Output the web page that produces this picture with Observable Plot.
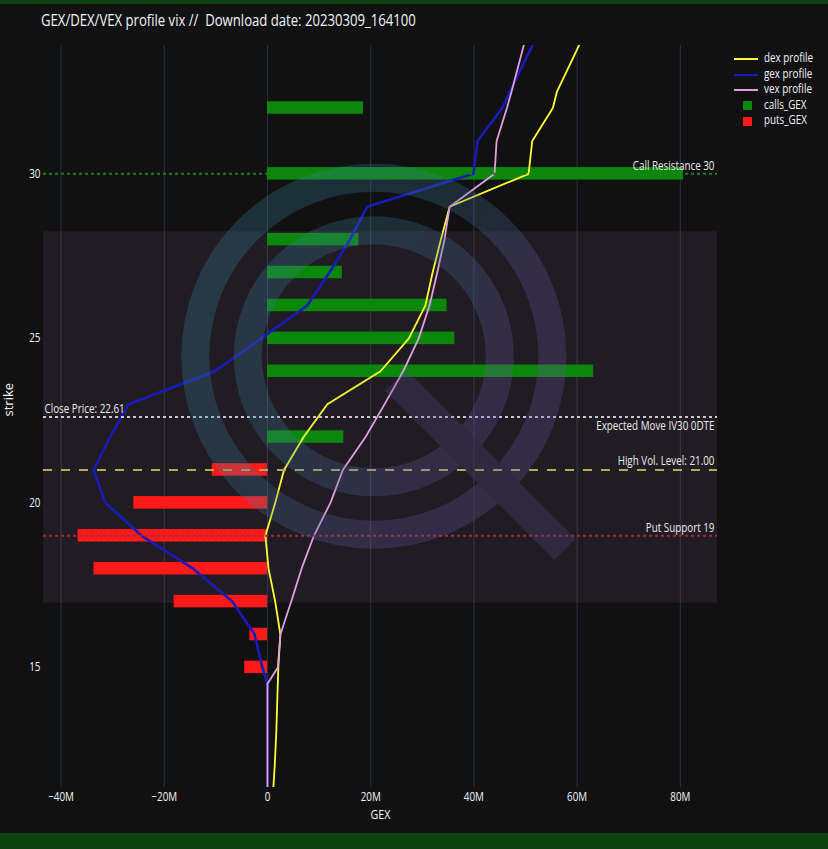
<!DOCTYPE html>
<html>
<head>
<meta charset="utf-8">
<script src="https://cdn.jsdelivr.net/npm/d3@7"></script>
<script src="https://cdn.jsdelivr.net/npm/@observablehq/plot@0.6"></script>
<style>
  html, body { margin: 0; padding: 0; background: #111111; }
  body { width: 828px; height: 849px; position: relative; overflow: hidden; font-family: "Open Sans", sans-serif; color: #f2f5fa; }
  #topbar { position: absolute; left: 0; top: 0; width: 828px; height: 4px; background: #0c420e; }
  #bottombar { position: absolute; left: 0; top: 833px; width: 828px; height: 16px; background: #0c420e; }
  #title { position: absolute; left: 41px; top: 8px; font-size: 16px; line-height: 24px; white-space: pre; transform: scaleX(0.82); transform-origin: left center; }
  #chart { position: absolute; left: 0; top: 40px; }
  #legend { position: absolute; left: 734px; top: 51px; font-size: 12px; }
  .lg { position: relative; height: 15.5px; width: 90px; }
  .lg .sw { position: absolute; }
  .lg .tx { position: absolute; left: 30px; top: -1px; line-height: 16px; white-space: pre; transform: scaleX(0.82); transform-origin: left center; }
</style>
</head>
<body>
<div id="topbar"></div>
<div id="title">GEX/DEX/VEX profile vix //  Download date: 20230309_164100</div>
<div id="chart"></div>
<div id="legend"></div>
<div id="bottombar"></div>
<script>
// ---- data (GEX values in millions) ----
const strikes    = [11, 12, 13, 14, 14.5, 15, 16, 17, 18, 19, 20, 21, 22, 23, 24, 25, 26, 27, 28, 29, 30, 31, 32, 32.5, 35];
const dexProfile = [1.0, 1.4, 1.7, 1.9, 2.0, 2.1, 2.5, 1.5, 0.2, -0.4, 1.5, 3.2, 7.0, 11.6, 21.9, 27.4, 30.6, 32.0, 33.6, 35.3, 50.6, 51.3, 55.3, 56.1, 63.7];
const gexProfile = [0, 0, 0, 0, 0, -1.0, -2.5, -6.8, -14.4, -24.4, -31.4, -33.7, -30.5, -26.9, -10.2, -1.2, 7.7, 12.0, 16.0, 19.3, 39.9, 40.7, 45.5, 47.0, 54.7];
const vexProfile = [0, 0, 0, 0, 0, 2.0, 2.5, 4.6, 6.6, 9.0, 12.2, 14.6, 19.0, 22.7, 26.3, 29.3, 31.4, 32.9, 34.3, 35.3, 44.0, 44.4, 46.4, 47.3, 51.5];

const callStrikes = [22, 24, 25, 26, 27, 28, 30, 32];
const callsGEX    = [14.8, 63.2, 36.3, 34.8, 14.5, 17.7, 80.6, 18.6];
const putStrikes  = [15, 16, 17, 18, 19, 20, 21];
const putsGEX     = [-4.4, -3.4, -18.1, -33.6, -36.7, -25.9, -10.7];

const callResistance = 30;
const closePrice = 22.61;
const highVolLevel = 21.00;
const putSupport = 19;
const expectedMove = [16.95, 28.24];

const xDomain = [-43.4, 87.2];
const yDomain = [11.35, 33.9];
const xTicks = [-40, -20, 0, 20, 40, 60, 80];
const yTicks = [15, 20, 25, 30];

const labelCallRes = "Call Resistance 30";
const labelClose = "Close Price: 22.61";
const labelExpMove = "Expected Move IV30 0DTE";
const labelHighVol = "High Vol. Level: 21.00";
const labelPutSup = "Put Support 19";

const legendNames = ["dex profile", "gex profile", "vex profile", "calls_GEX", "puts_GEX"];

// ---- tables ----
const profile = strikes.map((s, i) => ({strike: s, dex: dexProfile[i], gex: gexProfile[i], vex: vexProfile[i]}));
const calls = callStrikes.map((s, i) => ({strike: s, v: callsGEX[i]}));
const puts = putStrikes.map((s, i) => ({strike: s, v: putsGEX[i]}));

const C = {
  dex: "#ffff33", gex: "#1a1ab8", vex: "#dda0dd",
  calls: "#0b870b", puts: "#ff1a1a",
  grid: "#283442"
};
const half = 0.19;
const fmtM = d => d === 0 ? "0" : (d < 0 ? "\u2212" : "") + Math.abs(d) + "M";

const chart = Plot.plot({
  width: 828, height: 793,
  marginTop: 5, marginBottom: 46, marginLeft: 43, marginRight: 111,
  style: {background: "#111111", color: "#f2f5fa", fontFamily: "Open Sans", fontSize: "12px"},
  x: {domain: xDomain, ticks: xTicks, tickFormat: fmtM, tickSize: 0, tickPadding: 5, label: null},
  y: {domain: yDomain, ticks: yTicks, tickSize: 0, tickPadding: 3, label: null},
  marks: [
    Plot.ruleX(xTicks, {stroke: C.grid, strokeWidth: 1}),
    Plot.rect([{a: expectedMove[0], b: expectedMove[1]}], {x1: xDomain[0], x2: xDomain[1], y1: "a", y2: "b", fill: "#b080c0", fillOpacity: 0.1}),
    Plot.rectX(calls, {x: "v", y1: d => d.strike - half, y2: d => d.strike + half, fill: C.calls}),
    Plot.rectX(puts, {x: "v", y1: d => d.strike - half, y2: d => d.strike + half, fill: C.puts}),
    Plot.line(profile, {x: "dex", y: "strike", stroke: C.dex, strokeWidth: 1.8, clip: true}),
    Plot.line(profile, {x: "gex", y: "strike", stroke: C.gex, strokeWidth: 2.6, clip: true}),
    Plot.line(profile, {x: "vex", y: "strike", stroke: C.vex, strokeWidth: 1.8, clip: true}),
    Plot.ruleY([{y: callResistance}], {y: "y", stroke: "#1e7d1e", strokeWidth: 2, strokeDasharray: "3,3"}),
    Plot.ruleY([{y: closePrice}], {y: "y", stroke: "#c8c8d2", strokeWidth: 2, strokeDasharray: "3,3"}),
    Plot.ruleY([{y: highVolLevel}], {y: "y", stroke: "#b4a85a", strokeWidth: 2, strokeDasharray: "9,9"}),
    Plot.ruleY([{y: putSupport}], {y: "y", stroke: "#a02a34", strokeWidth: 2, strokeDasharray: "3,3"}),
    Plot.text([{y: callResistance, t: labelCallRes}], {y: "y", text: "t", frameAnchor: "right", textAnchor: "end", dx: -3, dy: -8, fill: "#ececec", fontSize: 12}),
    Plot.text([{y: closePrice, t: labelClose}], {y: "y", text: "t", frameAnchor: "left", textAnchor: "start", dx: 1, dy: -8, fill: "#ececec", fontSize: 12}),
    Plot.text([{y: closePrice, t: labelExpMove}], {y: "y", text: "t", frameAnchor: "right", textAnchor: "end", dx: -3, dy: 9, fill: "#ececec", fontSize: 12}),
    Plot.text([{y: highVolLevel, t: labelHighVol}], {y: "y", text: "t", frameAnchor: "right", textAnchor: "end", dx: -3, dy: -9, fill: "#ececec", fontSize: 12}),
    Plot.text([{y: putSupport, t: labelPutSup}], {y: "y", text: "t", frameAnchor: "right", textAnchor: "end", dx: -3, dy: -8, fill: "#ececec", fontSize: 12}),
    Plot.text(["GEX"], {text: d => d, frameAnchor: "bottom", dy: 31, fontSize: 13, fill: "#f2f5fa"}),
    Plot.text(["strike"], {text: d => d, frameAnchor: "left", dx: -35, rotate: -90, fontSize: 13, fill: "#f2f5fa"})
  ]
});

// ---- watermark logo (decoration, drawn over plot like a layout image) ----
const xs = chart.scale("x"), ys = chart.scale("y");
const sx = d3.scaleLinear(xs.domain, xs.range), sy = d3.scaleLinear(ys.domain, ys.range);
const svg = d3.select(chart);
const cx = sx(20.7), cy = sy(24.44);
const defs = svg.append("defs");
const grad = defs.append("linearGradient").attr("id", "wmgrad").attr("gradientUnits", "userSpaceOnUse")
  .attr("x1", cx - 190).attr("y1", cy - 120).attr("x2", cx + 190).attr("y2", cy + 120);
grad.append("stop").attr("offset", "0%").attr("stop-color", "#3a8aa8");
grad.append("stop").attr("offset", "45%").attr("stop-color", "#3d7898");
grad.append("stop").attr("offset", "75%").attr("stop-color", "#6a58a8");
grad.append("stop").attr("offset", "100%").attr("stop-color", "#6a58a8");
const wm = svg.append("g").attr("opacity", 0.27).attr("pointer-events", "none");
wm.append("circle").attr("cx", cx).attr("cy", cy).attr("r", 178.5).attr("fill", "none").attr("stroke", "url(#wmgrad)").attr("stroke-width", 28);
wm.append("circle").attr("cx", cx).attr("cy", cy).attr("r", 126).attr("fill", "none").attr("stroke", "url(#wmgrad)").attr("stroke-width", 28);
wm.append("line").attr("x1", cx + 22).attr("y1", cy + 24).attr("x2", cx + 191).attr("y2", cy + 193)
  .attr("stroke", "#524c88").attr("stroke-width", 30);

// ---- squeeze horizontal text (reference text is horizontally narrow) ----
const K = 0.82;
svg.selectAll("text").each(function () {
  const t = d3.select(this);
  const tr = t.attr("transform") || "";
  if (tr.includes("rotate")) return;
  const x = +(t.attr("x") || 0);
  t.attr("x", 0).attr("transform", (tr + ` translate(${x},0) scale(${K},1)`).trim());
});

document.getElementById("chart").appendChild(chart);

// ---- legend ----
const lg = document.getElementById("legend");
const swatch = [
  {type: "line", c: C.dex}, {type: "line", c: C.gex}, {type: "line", c: C.vex},
  {type: "sq", c: C.calls}, {type: "sq", c: C.puts}
];
legendNames.forEach((name, i) => {
  const row = document.createElement("div");
  row.className = "lg";
  const sw = document.createElement("div");
  sw.className = "sw";
  if (swatch[i].type === "line") {
    Object.assign(sw.style, {left: "0px", top: "7px", width: "24px", height: "2px", background: swatch[i].c});
  } else {
    Object.assign(sw.style, {left: "9px", top: "3.5px", width: "9px", height: "9px", background: swatch[i].c});
  }
  const tx = document.createElement("div");
  tx.className = "tx";
  tx.textContent = name;
  row.appendChild(sw); row.appendChild(tx);
  lg.appendChild(row);
});
</script>
</body>
</html>
